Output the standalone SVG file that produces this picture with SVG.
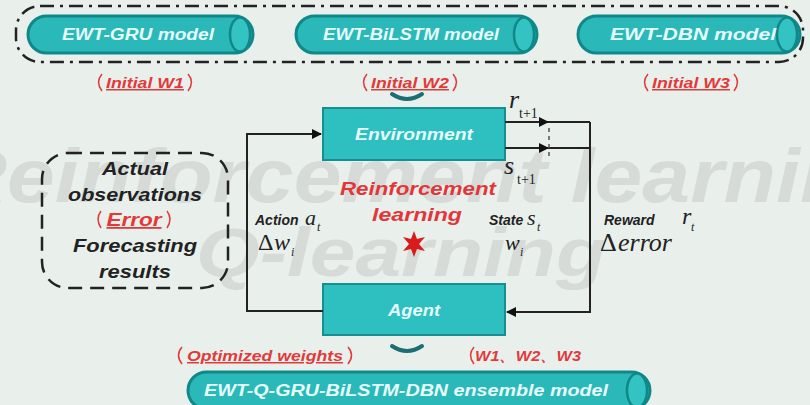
<svg xmlns="http://www.w3.org/2000/svg" width="810" height="405" viewBox="0 0 810 405">
<defs>
<style>
.cyl{fill:#2bb8b8;stroke:#10888a;stroke-width:3}
.cylend{fill:#34c3c3;stroke:#10888a;stroke-width:2.5}
.box{fill:#2ebfc0;stroke:#178f90;stroke-width:2}
.ctext{font-family:"Liberation Sans",Arial,sans-serif;font-weight:bold;font-style:italic;font-size:16px;fill:#e6fbfb;text-anchor:middle}
.red{font-family:"Liberation Sans",Arial,sans-serif;font-weight:bold;font-style:italic;font-size:15px;fill:#e23a3a;text-anchor:middle}
.redl{font-family:"Liberation Sans",Arial,sans-serif;font-weight:bold;font-style:italic;font-size:19px;fill:#e2363a;text-anchor:middle}
.blk{font-family:"Liberation Sans",Arial,sans-serif;font-weight:bold;font-style:italic;font-size:18px;fill:#222;text-anchor:middle}
.lbl{font-family:"Liberation Sans",Arial,sans-serif;font-weight:bold;font-style:italic;font-size:14px;fill:#222}
.math{font-family:"Liberation Serif","Times New Roman",serif;font-style:italic;fill:#222}
.brk{fill:none;stroke:#e23a3a;stroke-width:1.5}
.line{fill:none;stroke:#222;stroke-width:2}
.wm{font-family:"Liberation Sans",Arial,sans-serif;font-weight:bold;font-style:italic;fill:#d3d8d5;opacity:0.85}
.chev{fill:none;stroke:#1d6e72;stroke-width:4;stroke-linecap:round}
</style>
<marker id="arr" viewBox="0 0 10 10" refX="9" refY="5" markerWidth="5" markerHeight="5" orient="auto">
<path d="M0,0 L10,5 L0,10 z" fill="#111"/>
</marker>
</defs>
<rect width="810" height="405" fill="#e9f0ec"/>
<!-- watermarks -->
<text class="wm" x="-55" y="202" font-size="76" textLength="960" lengthAdjust="spacingAndGlyphs">Reinforcement learning</text>
<text class="wm" x="196" y="276" font-size="68" textLength="410" lengthAdjust="spacingAndGlyphs">Q-learning</text>

<!-- top dash-dot container -->
<rect x="16" y="6" width="787" height="56" rx="24" fill="none" stroke="#222" stroke-width="2.5" stroke-dasharray="14,6,3,6"/>

<g id="gru">
<rect class="cyl" x="28" y="16" width="225" height="37" rx="18.5"/>
<ellipse class="cylend" cx="240" cy="34.5" rx="10" ry="17"/>
<text class="ctext" x="138" y="40" textLength="152" lengthAdjust="spacingAndGlyphs">EWT-GRU model</text>
</g>
<g id="bilstm">
<rect class="cyl" x="296" y="16" width="241" height="37" rx="18.5"/>
<ellipse class="cylend" cx="524" cy="34.5" rx="10" ry="17"/>
<text class="ctext" x="411" y="40" textLength="176" lengthAdjust="spacingAndGlyphs">EWT-BiLSTM model</text>
</g>
<g id="dbn">
<rect class="cyl" x="578" y="16" width="222" height="37" rx="18.5"/>
<ellipse class="cylend" cx="787" cy="34.5" rx="10" ry="17"/>
<text class="ctext" x="693" y="40" textLength="166" lengthAdjust="spacingAndGlyphs">EWT-DBN model</text>
</g>

<g id="initw1">
<path class="brk" d="M102,74 Q95,82 102,91 M188,74 Q195,82 188,91"/>
<text class="red" x="145" y="88" textLength="78" lengthAdjust="spacingAndGlyphs" text-decoration="underline">Initial W1</text>
</g>
<g id="initw2">
<path class="brk" d="M367,74 Q360,82 367,91 M453,74 Q460,82 453,91"/>
<text class="red" x="410" y="88" textLength="78" lengthAdjust="spacingAndGlyphs" text-decoration="underline">Initial W2</text>
</g>
<g id="initw3">
<path class="brk" d="M648,74 Q641,82 648,91 M734,74 Q741,82 734,91"/>
<text class="red" x="691" y="88" textLength="78" lengthAdjust="spacingAndGlyphs" text-decoration="underline">Initial W3</text>
</g>

<g id="environment">
<rect class="box" x="323" y="108" width="182" height="52"/>
<text class="ctext" x="414" y="140" textLength="118" lengthAdjust="spacingAndGlyphs">Environment</text>
</g>
<g id="agent">
<rect class="box" x="323" y="284" width="182" height="51"/>
<text class="ctext" x="414" y="316" textLength="52" lengthAdjust="spacingAndGlyphs">Agent</text>
</g>

<g id="errorbox">
<rect x="42" y="153" width="186" height="135" rx="26" fill="none" stroke="#222" stroke-width="2.5" stroke-dasharray="14,8"/>
<text class="blk" x="135" y="175" textLength="66" lengthAdjust="spacingAndGlyphs">Actual</text>
<text class="blk" x="135" y="201" textLength="134" lengthAdjust="spacingAndGlyphs">observations</text>
<path class="brk" d="M101,211 Q95,219 101,228 M167,211 Q173,219 167,228"/>
<text class="blk" x="134" y="226" textLength="55" lengthAdjust="spacingAndGlyphs" style="fill:#e23a3a" text-decoration="underline">Error</text>
<text class="blk" x="135" y="252" textLength="124" lengthAdjust="spacingAndGlyphs">Forecasting</text>
<text class="blk" x="135" y="278" textLength="72" lengthAdjust="spacingAndGlyphs">results</text>
</g>

<g id="connectors">
<path class="line" d="M323,311 H247 V134 H321" marker-end="url(#arr)"/>
<path class="line" d="M505,122 H548" marker-end="url(#arr)"/>
<path class="line" d="M548,122 H590"/>
<path class="line" d="M505,148 H548" marker-end="url(#arr)"/>
<path class="line" d="M548,148 H590"/>
<path class="line" d="M590,122 V312 H507" marker-end="url(#arr)"/>
<path d="M549,128 V160" stroke="#555" stroke-width="1.5" stroke-dasharray="4,4"/>
<path class="chev" d="M392,94 Q407,104 422,94"/>
<path class="chev" d="M392,346 Q407,356 422,346"/>
</g>

<!-- labels -->
<text class="math" x="509" y="108" font-size="26">r</text>
<text class="math" x="519" y="118" font-size="14" style="font-style:normal">t+1</text>
<text class="math" x="504" y="174" font-size="26">s</text>
<text class="math" x="517" y="184" font-size="14" style="font-style:normal">t+1</text>

<text class="redl" x="418" y="195" textLength="156" lengthAdjust="spacingAndGlyphs">Reinforcement</text>
<text class="redl" x="417" y="221" textLength="90" lengthAdjust="spacingAndGlyphs">learning</text>
<path d="M414,231 L417,239 L425,237 L419,244 L425,251 L417,249 L414,257 L411,249 L403,251 L409,244 L403,237 L411,239 Z" fill="#d81c1c"/>

<text class="lbl" x="255" y="225">Action</text>
<text class="math" x="305" y="225" font-size="22">a</text>
<text class="math" x="317" y="231" font-size="12">t</text>
<text class="math" x="258" y="250" font-size="24" style="font-style:normal">Δ</text>
<text class="math" x="274" y="250" font-size="24">w</text>
<text class="math" x="291" y="256" font-size="12">i</text>

<text class="lbl" x="489" y="225">State</text>
<text class="math" x="527" y="225" font-size="22">s</text>
<text class="math" x="537" y="231" font-size="12">t</text>
<text class="math" x="505" y="250" font-size="22">w</text>
<text class="math" x="520" y="256" font-size="12">i</text>

<text class="lbl" x="604" y="225">Reward</text>
<text class="math" x="682" y="224" font-size="24">r</text>
<text class="math" x="691" y="231" font-size="12">t</text>
<text class="math" x="600" y="251" font-size="26" style="font-style:normal">Δ</text>
<text class="math" x="618" y="251" font-size="26">error</text>

<g id="optw">
<path class="brk" d="M182,347 Q175,355 182,364 M348,347 Q355,355 348,364"/>
<text class="red" x="265" y="361" textLength="156" lengthAdjust="spacingAndGlyphs" text-decoration="underline">Optimized weights</text>
</g>
<g id="wlist">
<path class="brk" d="M474,347 Q467,355 474,364"/>
<text class="red" x="528" y="361" textLength="106" lengthAdjust="spacingAndGlyphs" font-family="'Liberation Sans','Noto Sans CJK SC',sans-serif">W1、W2、W3</text>
</g>

<g id="ensemble">
<rect class="cyl" x="188" y="372" width="462" height="37" rx="18.5"/>
<ellipse class="cylend" cx="637" cy="390.5" rx="10" ry="17"/>
<text class="ctext" x="406" y="396" textLength="404" lengthAdjust="spacingAndGlyphs">EWT-Q-GRU-BiLSTM-DBN ensemble model</text>
</g>
</svg>
